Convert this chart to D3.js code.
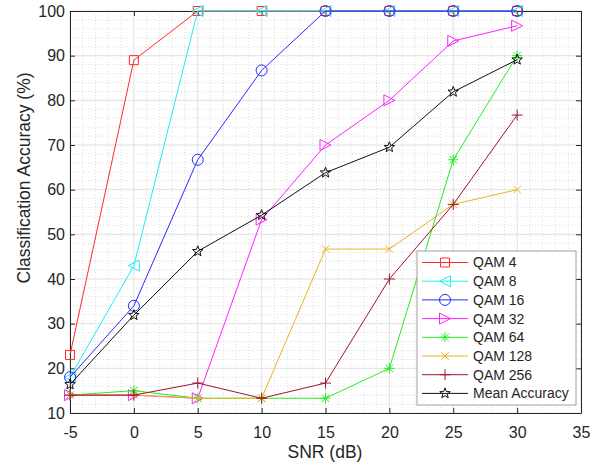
<!DOCTYPE html>
<html>
<head>
<meta charset="utf-8">
<script src="https://cdn.jsdelivr.net/npm/d3@7"></script>
<style>
  html, body { margin: 0; padding: 0; background: #fff; }
  svg { display: block; font-family: "Liberation Sans", Arial, sans-serif; }
</style>
</head>
<body>
<svg id="chart" width="599" height="465"></svg>
<script>
// SNR values (dB)
const snr = [-5, 0, 5, 10, 15, 20, 25, 30];

// Classification accuracy (%) per modulation
const qam4   = [23, 89, 100, 100, 100, 100, 100, 100];
const qam8   = [18, 43, 100, 100, 100, 100, 100, 100];
const qam16  = [18, 34, 66.7, 86.7, 100, 100, 100, 100];
const qam32  = [14, 14, 13.3, 53.3, 70, 80, 93.3, 96.7];
const qam64  = [14, 15, 13.3, 13.3, 13.3, 20, 66.7, 90];
const qam128 = [14, 14, 13.3, 13.3, 46.7, 46.7, 56.7, 60];
const qam256 = [14, 14, 16.7, 13.3, 16.7, 40, 56.7, 76.7];
const meanAcc = [16.4, 31.9, 46.2, 54.3, 63.8, 69.5, 81.9, 89.1];

const xTicks = [-5, 0, 5, 10, 15, 20, 25, 30, 35];
const yTicks = [10, 20, 30, 40, 50, 60, 70, 80, 90, 100];

const series = [
  { name: "QAM 4",  values: qam4,   color: "#ff2a2a", marker: "square" },
  { name: "QAM 8",  values: qam8,   color: "#1ef0f0", marker: "tri-left" },
  { name: "QAM 16", values: qam16,  color: "#2a2aff", marker: "circle" },
  { name: "QAM 32", values: qam32,  color: "#ff22ff", marker: "tri-right" },
  { name: "QAM 64", values: qam64,  color: "#22ee22", marker: "asterisk" },
  { name: "QAM 128", values: qam128, color: "#EDB120", marker: "x" },
  { name: "QAM 256", values: qam256, color: "#A2142F", marker: "plus" },
  { name: "Mean Accuracy", values: meanAcc, color: "#111111", marker: "star" }
];

const svg = d3.select("#chart");
const m = { left: 70, top: 11, right: 581, bottom: 413 };

const x = d3.scaleLinear().domain([-5, 35]).range([m.left, m.right]);
const y = d3.scaleLinear().domain([10, 100]).range([m.bottom, m.top]);

const g = svg.append("g");

// minor grid (dotted)
const xMinor = d3.range(-5, 35.01, 1).filter(v => v % 5 !== 0);
const yMinor = d3.range(10, 100.01, 2).filter(v => v % 10 !== 0);
g.selectAll(".xminor").data(xMinor).join("line")
  .attr("x1", d => x(d)).attr("x2", d => x(d))
  .attr("y1", m.top).attr("y2", m.bottom)
  .attr("stroke", "#d4d4d4").attr("stroke-width", 0.8).attr("stroke-dasharray", "1,2");
g.selectAll(".yminor").data(yMinor).join("line")
  .attr("x1", m.left).attr("x2", m.right)
  .attr("y1", d => y(d)).attr("y2", d => y(d))
  .attr("stroke", "#d4d4d4").attr("stroke-width", 0.8).attr("stroke-dasharray", "1,2");

// major grid
g.selectAll(".xmajor").data(xTicks).join("line")
  .attr("x1", d => x(d)).attr("x2", d => x(d))
  .attr("y1", m.top).attr("y2", m.bottom)
  .attr("stroke", "#e0e0e0").attr("stroke-width", 1);
g.selectAll(".ymajor").data(yTicks).join("line")
  .attr("x1", m.left).attr("x2", m.right)
  .attr("y1", d => y(d)).attr("y2", d => y(d))
  .attr("stroke", "#e0e0e0").attr("stroke-width", 1);

// axes (ticks pointing inward, box on)
const axisColor = "#262626";
const fmt = d => String(d);
function styleAxis(sel) {
  sel.select(".domain").attr("stroke", axisColor);
  sel.selectAll(".tick line").attr("stroke", axisColor);
  sel.selectAll(".tick text").attr("fill", axisColor).attr("font-size", 16)
    .attr("font-family", "'Liberation Sans', Arial, sans-serif");
}
const xAxis = g.append("g").attr("transform", `translate(0,${m.bottom})`)
  .call(d3.axisBottom(x).tickValues(xTicks).tickFormat(fmt).tickSizeInner(-5).tickSizeOuter(0).tickPadding(14));
styleAxis(xAxis);
const xAxisTop = g.append("g").attr("transform", `translate(0,${m.top})`)
  .call(d3.axisTop(x).tickValues(xTicks).tickSizeInner(-5).tickSizeOuter(0).tickFormat(""));
styleAxis(xAxisTop);
const yAxis = g.append("g").attr("transform", `translate(${m.left},0)`)
  .call(d3.axisLeft(y).tickValues(yTicks).tickFormat(fmt).tickSizeInner(-5).tickSizeOuter(0).tickPadding(5));
styleAxis(yAxis);
const yAxisRight = g.append("g").attr("transform", `translate(${m.right},0)`)
  .call(d3.axisRight(y).tickValues(yTicks).tickSizeInner(-5).tickSizeOuter(0).tickFormat(""));
styleAxis(yAxisRight);

// axis titles
svg.append("text").attr("x", 325).attr("y", 458)
  .attr("text-anchor", "middle").attr("font-size", 17.5).attr("fill", axisColor)
  .text("SNR (dB)");
svg.append("text")
  .attr("transform", `translate(30,178) rotate(-90)`)
  .attr("text-anchor", "middle").attr("font-size", 17.5).attr("fill", axisColor)
  .text("Classification Accuracy (%)");

// marker shapes
function markerPath(type, s) {
  const r = s / 2;
  switch (type) {
    case "square": return `M${-r},${-r}H${r}V${r}H${-r}Z`;
    case "circle": return d3.symbol(d3.symbolCircle, Math.PI * r * r)();
    case "tri-left": return `M${-r},0L${r},${-r}L${r},${r}Z`;
    case "tri-right": return `M${r},0L${-r},${-r}L${-r},${r}Z`;
    case "x": { const a = r * 0.75; return `M${-a},${-a}L${a},${a}M${-a},${a}L${a},${-a}`; }
    case "plus": return `M${-r},0H${r}M0,${-r}V${r}`;
    case "asterisk": {
      const a = r * 0.75;
      return `M${-r},0H${r}M0,${-r}V${r}M${-a},${-a}L${a},${a}M${-a},${a}L${a},${-a}`;
    }
    case "star": {
      const pts = [];
      for (let i = 0; i < 10; i++) {
        const ang = -Math.PI / 2 + i * Math.PI / 5;
        const rr = i % 2 === 0 ? r : r * 0.42;
        pts.push([rr * Math.cos(ang), rr * Math.sin(ang)]);
      }
      return "M" + pts.map(p => p.join(",")).join("L") + "Z";
    }
  }
}
const markerSize = { square: 9, circle: 11, "tri-left": 11, "tri-right": 11, x: 10, plus: 11, asterisk: 10, star: 11 };

const line = d3.line().x((d, i) => x(snr[i])).y(d => y(d));

const plot = g.append("g");
series.forEach(s => {
  plot.append("path").datum(s.values)
    .attr("d", line).attr("fill", "none")
    .attr("stroke", s.color).attr("stroke-width", 1);
  plot.selectAll(null).data(s.values).join("path")
    .attr("transform", (d, i) => `translate(${x(snr[i])},${y(d)})`)
    .attr("d", markerPath(s.marker, markerSize[s.marker]))
    .attr("fill", "none").attr("stroke", s.color).attr("stroke-width", 1);
});

// legend
const lg = svg.append("g").attr("transform", "translate(417,251)");
lg.append("rect").attr("x", 0).attr("y", 0).attr("width", 159).attr("height", 154)
  .attr("fill", "#fff").attr("stroke", "#a0a0a0").attr("stroke-width", 1);
series.forEach((s, i) => {
  const yy = 11.5 + i * 18.7;
  const row = lg.append("g").attr("transform", `translate(0,${yy})`);
  row.append("line").attr("x1", 5).attr("x2", 51).attr("y1", 0).attr("y2", 0)
    .attr("stroke", s.color).attr("stroke-width", 1);
  row.append("path").attr("transform", "translate(28,0)")
    .attr("d", markerPath(s.marker, markerSize[s.marker]))
    .attr("fill", "none").attr("stroke", s.color).attr("stroke-width", 1);
  row.append("text").attr("x", 56).attr("y", 0).attr("dy", "0.35em")
    .attr("font-size", 14).attr("fill", axisColor).text(s.name);
});
</script>
</body>
</html>
